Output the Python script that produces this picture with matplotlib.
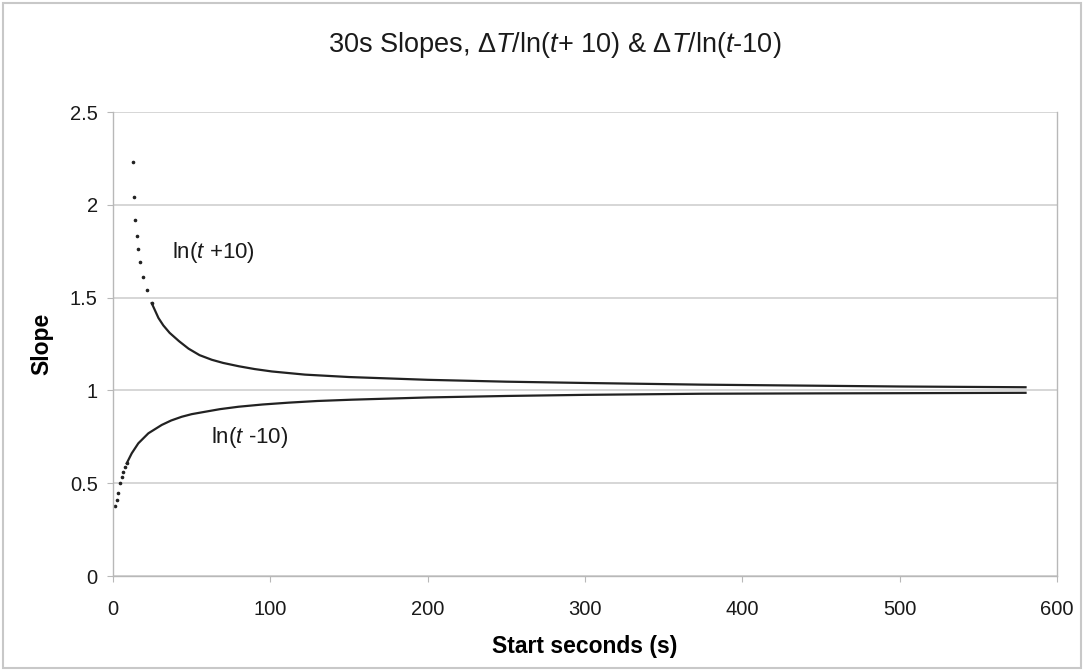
import matplotlib
matplotlib.use("Agg")
import matplotlib.pyplot as plt
from matplotlib.patches import Rectangle

plt.rcParams['font.family'] = ['Liberation Sans', 'DejaVu Sans']
plt.rcParams['mathtext.fontset'] = 'custom'
plt.rcParams['mathtext.rm'] = 'Liberation Sans'
plt.rcParams['mathtext.it'] = 'Liberation Sans:italic'

# Data
upper_t = [12.9, 13.6, 14.0, 15.1, 16.1, 17.2, 19.3, 21.5, 24.6, 28.9, 32, 36, 42,
           48, 55, 62.8, 70, 80, 90, 101, 122, 150, 200, 250, 300, 374, 450, 500, 580]
upper_y = [2.23, 2.04, 1.92, 1.83, 1.76, 1.69, 1.61, 1.54, 1.47, 1.39, 1.35, 1.31, 1.265,
           1.225, 1.19, 1.165, 1.148, 1.13, 1.115, 1.102, 1.085, 1.072, 1.057, 1.047,
           1.040, 1.031, 1.025, 1.021, 1.017]

lower_t = [1.3, 2.3, 3.4, 4.5, 5.5, 6.6, 7.6, 8.7, 11.9, 16.1, 22.5, 31, 37, 43.7, 50,
           58.6, 68, 79.8, 95, 111.7, 130, 152, 200, 250, 300, 374, 450, 500, 580]
lower_y = [0.377, 0.41, 0.446, 0.50, 0.535, 0.562, 0.585, 0.607, 0.661, 0.715, 0.769,
           0.814, 0.838, 0.858, 0.872, 0.885, 0.899, 0.912, 0.924, 0.934, 0.943, 0.950,
           0.962, 0.970, 0.976, 0.982, 0.984, 0.985, 0.987]

x_ticks = [0, 100, 200, 300, 400, 500, 600]
y_ticks = [0, 0.5, 1, 1.5, 2, 2.5]
y_tick_labels = ['0', '0.5', '1', '1.5', '2', '2.5']

title = r'30s Slopes, $\Delta\mathit{T}$/ln($\mathit{t}$+ 10) & $\Delta\mathit{T}$/ln($\mathit{t}$-10)'

fig = plt.figure(figsize=(10.84, 6.71), dpi=100)
ax = fig.add_axes([113/1084, 1 - 576/671, (1057-113)/1084, (576-112)/671])

# dotted start (sparse samples) and continuous remainder
n_up = 9
n_lo = 8
ax.plot(upper_t[:n_up], upper_y[:n_up], linestyle='none', marker='o', markersize=1.6,
        color='#222222')
ax.plot(upper_t[n_up-1:], upper_y[n_up-1:], color='#222222', linewidth=1.6)
ax.plot(lower_t[:n_lo], lower_y[:n_lo], linestyle='none', marker='o', markersize=1.6,
        color='#222222')
ax.plot(lower_t[n_lo-1:], lower_y[n_lo-1:], color='#222222', linewidth=1.6)

ax.set_xlim(0, 600)
ax.set_ylim(0, 2.5)
ax.set_xticks(x_ticks)
ax.set_yticks(y_ticks)
ax.set_yticklabels(y_tick_labels)
ax.grid(axis='y', color='#d0d0d0', linewidth=1.2)
ax.set_axisbelow(True)
for s in ax.spines.values():
    s.set_color('#b8b8b8')
    s.set_linewidth(1.0)
ax.spines['top'].set_visible(False)
ax.tick_params(axis='both', colors='#b8b8b8', labelcolor='#1a1a1a', labelsize=14.5,
               length=4, direction='out')
ax.tick_params(axis='x', pad=13)
ax.tick_params(axis='y', pad=7)

ax.set_xlabel('Start seconds (s)', fontsize=16.5, fontweight='bold', labelpad=12)
ax.set_ylabel('Slope', fontsize=16.5, fontweight='bold')
ax.yaxis.set_label_coords(-0.063, 0.5)

ax.text(64, 1.745, r'ln($\mathit{t}$ +10)', fontsize=16, ha='center', va='center',
        color='#1a1a1a')
ax.text(87, 0.745, r'ln($\mathit{t}$ -10)', fontsize=16, ha='center', va='center',
        color='#1a1a1a')

fig.text(0.512, 1 - 45/671, title, fontsize=19.5, ha='center', va='center', color='#1a1a1a')

fig.patches.append(Rectangle((0.003, 0.004), 0.994, 0.992, transform=fig.transFigure,
                             fill=False, edgecolor='#c8c8c8', linewidth=1.5))

fig.savefig('out.png', dpi=100)
